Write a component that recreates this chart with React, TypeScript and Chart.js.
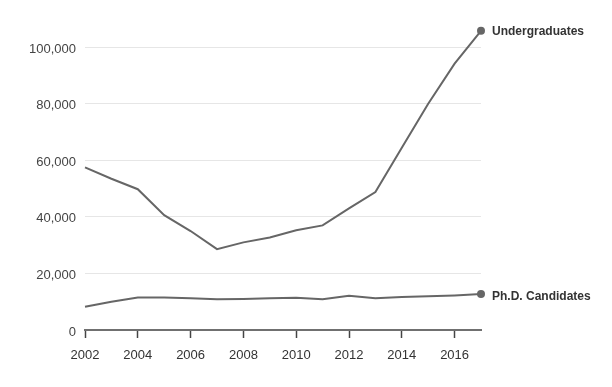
import React, { useEffect, useRef } from "react";
import { Chart, registerables } from "chart.js";

Chart.register(...registerables);

const years = ["2002","2003","2004","2005","2006","2007","2008","2009","2010","2011","2012","2013","2014","2015","2016","2017"];
const undergraduates = [57500, 53500, 49800, 40600, 35000, 28600, 31000, 32700, 35300, 37000, 43000, 48800, 64500, 80000, 94200, 105800];
const phdCandidates = [8200, 10000, 11500, 11500, 11200, 10900, 11000, 11200, 11400, 10900, 12100, 11200, 11700, 11900, 12200, 12700];
const seriesLabels = ["Undergraduates", "Ph.D. Candidates"];
const yTickValues = [0, 20000, 40000, 60000, 80000, 100000];

const endLabels = {
  id: "endLabels",
  afterDatasetsDraw(chart: any) {
    const ctx = chart.ctx;
    ctx.save();
    ctx.font = "bold 12px 'Liberation Sans', Arial, sans-serif";
    ctx.fillStyle = "#333";
    ctx.textBaseline = "middle";
    ctx.textAlign = "left";
    chart.data.datasets.forEach((ds: any, i: number) => {
      const meta = chart.getDatasetMeta(i);
      const pt = meta.data[meta.data.length - 1];
      if (!pt) return;
      const dy = i === 1 ? 3 : 1;
      ctx.fillText(ds.label, pt.x + 11, pt.y + dy);
    });
    ctx.restore();
  },
};

export default function App() {
  const ref = useRef<HTMLCanvasElement>(null);
  useEffect(() => {
    document.body.style.margin = "0";
    const last = years.length - 1;
    const mkDs = (label: string, data: number[]) => ({
      label,
      data,
      borderColor: "#666",
      backgroundColor: "#666",
      borderWidth: 2,
      tension: 0,
      pointRadius: (c: any) => (c.dataIndex === last ? 4 : 0),
      pointHoverRadius: 0,
      pointBorderWidth: 0,
    });
    const chart = new Chart(ref.current as HTMLCanvasElement, {
      type: "line",
      data: {
        labels: years,
        datasets: [mkDs(seriesLabels[0], undergraduates), mkDs(seriesLabels[1], phdCandidates)],
      },
      options: {
        animation: false,
        responsive: false,
        maintainAspectRatio: false,
        layout: { padding: { left: 0, right: 131, top: 19, bottom: 0 } },
        plugins: { legend: { display: false }, tooltip: { enabled: false } },
        scales: {
          x: {
            type: "category",
            offset: false,
            afterFit: (s: any) => { s.height = 57; },
            border: { display: true, color: "#707070", width: 2 },
            grid: {
              drawOnChartArea: false,
              drawTicks: true,
              tickLength: 8,
              tickWidth: 1.5,
              tickColor: (c: any) => (c.index % 2 === 0 ? "#444" : "rgba(0,0,0,0)"),
            },
            ticks: {
              autoSkip: false,
              maxRotation: 0,
              padding: 10,
              color: "#333",
              font: { family: "'Liberation Sans', Arial, sans-serif", size: 13 },
              callback: (_v: any, i: number) => (i % 2 === 0 ? years[i] : ""),
            },
          },
          y: {
            min: 0,
            max: 110000,
            afterFit: (s: any) => { s.width = 85; },
            afterBuildTicks: (s: any) => {
              s.ticks = yTickValues.map((v) => ({ value: v }));
            },
            border: { display: false },
            grid: { color: "#e6e6e6", lineWidth: 1, drawTicks: false },
            ticks: {
              padding: 9,
              labelOffset: 2,
              color: "#444",
              font: { family: "'Liberation Sans', Arial, sans-serif", size: 13 },
              callback: (v: any) => Number(v).toLocaleString("en-US"),
            },
          },
        },
      },
      plugins: [endLabels],
    });
    return () => chart.destroy();
  }, []);
  return <canvas ref={ref} width={612} height={387} style={{ display: "block" }} />;
}
